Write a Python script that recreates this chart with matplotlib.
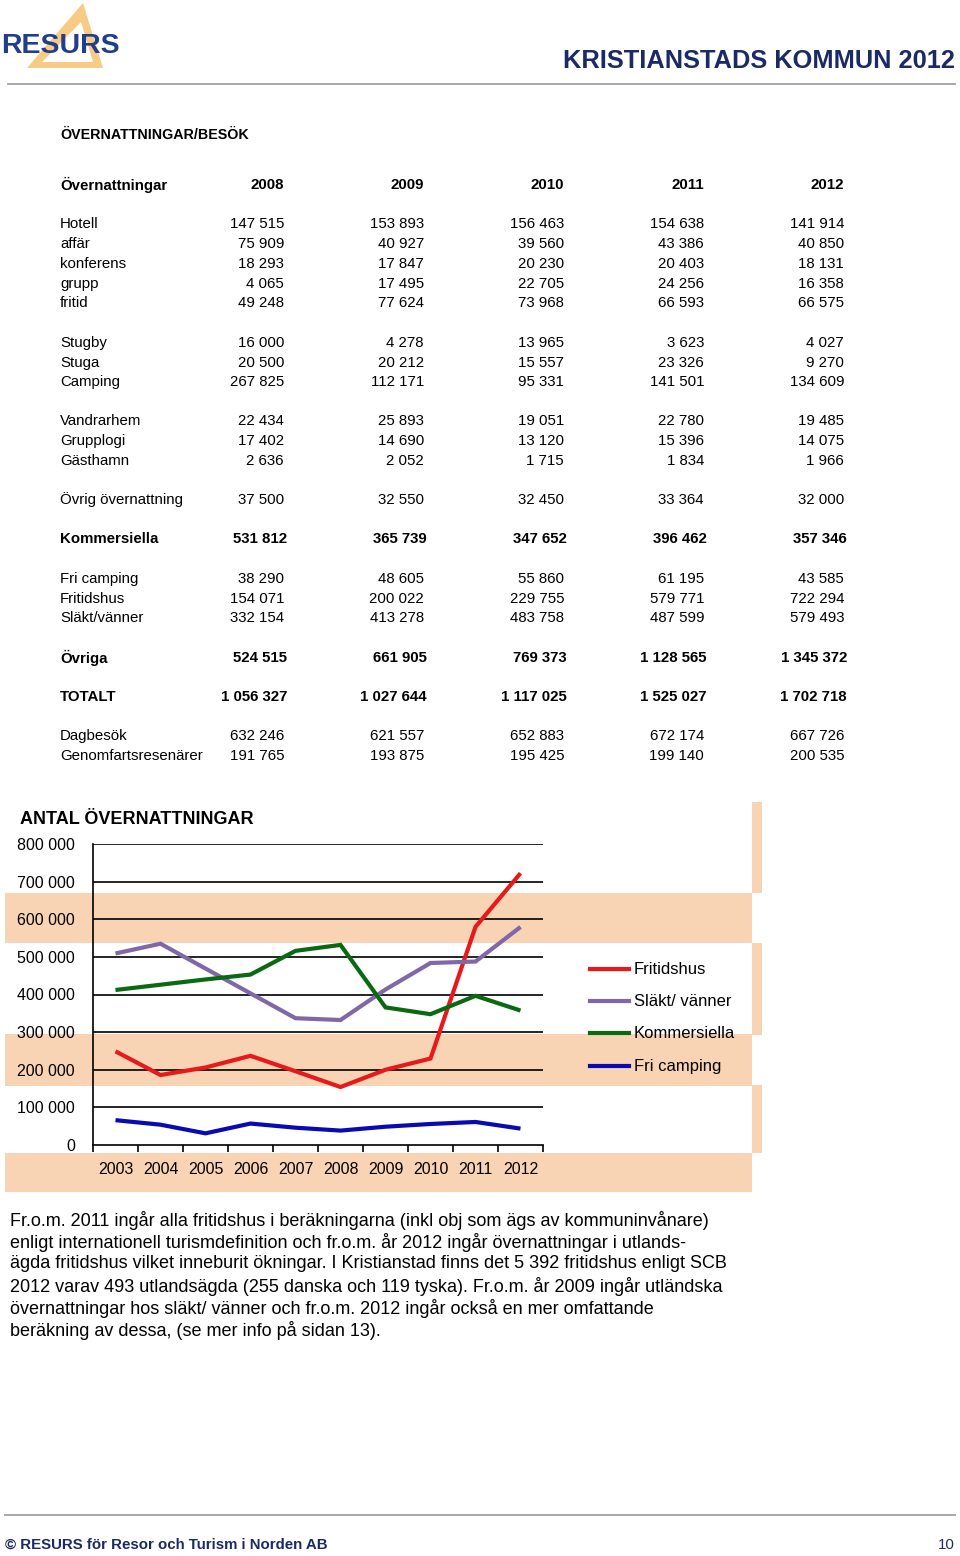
import matplotlib
matplotlib.use("Agg")
import matplotlib.pyplot as plt
from matplotlib.patches import Rectangle, Polygon
from matplotlib.lines import Line2D

# ---------------- data ----------------
table_years = ["2008", "2009", "2010", "2011", "2012"]

row_labels = ["Hotell", "affär", "konferens", "grupp", "fritid",
              "Stugby", "Stuga", "Camping",
              "Vandrarhem", "Grupplogi", "Gästhamn",
              "Övrig övernattning",
              "Kommersiella",
              "Fri camping", "Fritidshus", "Släkt/vänner",
              "Övriga",
              "TOTALT",
              "Dagbesök", "Genomfartsresenärer"]
row_values = [
    ["147 515", "153 893", "156 463", "154 638", "141 914"],
    ["75 909", "40 927", "39 560", "43 386", "40 850"],
    ["18 293", "17 847", "20 230", "20 403", "18 131"],
    ["4 065", "17 495", "22 705", "24 256", "16 358"],
    ["49 248", "77 624", "73 968", "66 593", "66 575"],
    ["16 000", "4 278", "13 965", "3 623", "4 027"],
    ["20 500", "20 212", "15 557", "23 326", "9 270"],
    ["267 825", "112 171", "95 331", "141 501", "134 609"],
    ["22 434", "25 893", "19 051", "22 780", "19 485"],
    ["17 402", "14 690", "13 120", "15 396", "14 075"],
    ["2 636", "2 052", "1 715", "1 834", "1 966"],
    ["37 500", "32 550", "32 450", "33 364", "32 000"],
    ["531 812", "365 739", "347 652", "396 462", "357 346"],
    ["38 290", "48 605", "55 860", "61 195", "43 585"],
    ["154 071", "200 022", "229 755", "579 771", "722 294"],
    ["332 154", "413 278", "483 758", "487 599", "579 493"],
    ["524 515", "661 905", "769 373", "1 128 565", "1 345 372"],
    ["1 056 327", "1 027 644", "1 117 025", "1 525 027", "1 702 718"],
    ["632 246", "621 557", "652 883", "672 174", "667 726"],
    ["191 765", "193 875", "195 425", "199 140", "200 535"],
]
bold_rows = ["Kommersiella", "Övriga", "TOTALT"]

chart_years = ["2003", "2004", "2005", "2006", "2007",
               "2008", "2009", "2010", "2011", "2012"]
fritidshus = [249000, 186000, 206000, 237000, 196000,
              154071, 200022, 229755, 579771, 722294]
slakt_vanner = [509000, 535000, 469000, 403000, 337000,
                332154, 413278, 483758, 487599, 579493]
kommersiella = [412000, 426000, 440000, 453000, 516000,
                531812, 365739, 347652, 396462, 357346]
fri_camping = [66000, 54000, 31000, 57000, 46000,
               38290, 48605, 55860, 61195, 43585]
yticks = [0, 100000, 200000, 300000, 400000, 500000, 600000, 700000, 800000]
ytick_labels = ["0", "100 000", "200 000", "300 000", "400 000",
                "500 000", "600 000", "700 000", "800 000"]

paragraph = [
    "Fr.o.m. 2011 ingår alla fritidshus i beräkningarna (inkl obj som ägs av kommuninvånare)",
    "enligt internationell turismdefinition och fr.o.m. år 2012 ingår övernattningar i utlands-",
    "ägda fritidshus vilket inneburit ökningar. I Kristianstad finns det 5 392 fritidshus enligt SCB",
    "2012 varav 493 utlandsägda (255 danska och 119 tyska). Fr.o.m. år 2009 ingår utländska",
    "övernattningar hos släkt/ vänner och fr.o.m. 2012 ingår också en mer omfattande",
    "beräkning av dessa, (se mer info på sidan 13).",
]

# ---------------- figure ----------------
W, H = 960, 1556
plt.rcParams['font.family'] = ['Liberation Sans', 'DejaVu Sans']
fig = plt.figure(figsize=(W / 100, H / 100), dpi=100)

NAVY = "#1a2a66"
PEACH = "#f9d4b4"

def fx(x):
    return x / W

def fy(y):
    return 1 - y / H

def ftext(x, y, s, **kw):
    kw.setdefault("va", "center")
    kw.setdefault("zorder", 5)
    fig.text(fx(x), fy(y), s, **kw)

def frect(x0, y0, x1, y1, color, z=-5):
    fig.patches.append(Rectangle((fx(x0), fy(y1)), fx(x1) - fx(x0), fy(y0) - fy(y1),
                                 transform=fig.transFigure, facecolor=color,
                                 edgecolor="none", zorder=z))

# header logo
outer = [(fx(83), fy(3)), (fx(27), fy(68)), (fx(103), fy(68))]
inner = [(fx(81), fy(22)), (fx(42), fy(62)), (fx(93), fy(62))]
fig.patches.append(Polygon(outer, closed=True, transform=fig.transFigure,
                           facecolor="#f8cb85", edgecolor="none", zorder=-4))
fig.patches.append(Polygon(inner, closed=True, transform=fig.transFigure,
                           facecolor="white", edgecolor="none", zorder=-3))
ftext(1, 46, "RESURS", fontsize=20.5, fontweight="bold", color="#213e8a")
ftext(955, 61, "KRISTIANSTADS KOMMUN 2012", fontsize=18.3, fontweight="bold",
      color=NAVY, ha="right")
fig.add_artist(Line2D([fx(8), fx(955)], [fy(84), fy(84)], color="#a0a0a0", lw=1.3))

# table
ftext(60, 135, "ÖVERNATTNINGAR/BESÖK", fontsize=10.3, fontweight="bold", color="black")
col_x = [284, 424, 564, 704, 844]
ftext(60, 185, "Övernattningar", fontsize=10.8, fontweight="bold")
for cx, yr in zip(col_x, table_years):
    ftext(cx, 185, yr, fontsize=10.8, fontweight="bold", ha="right")

row_y = [224, 244, 264, 284, 303, 343, 363, 382, 421, 441, 461, 500,
         539, 579, 599, 618, 658, 697, 736, 756]
for lab, vals, ry in zip(row_labels, row_values, row_y):
    b = lab in bold_rows
    fw = "bold" if b else "normal"
    ftext(60, ry, lab, fontsize=10.8, fontweight=fw)
    for cx, v in zip(col_x, vals):
        ftext(cx + (3 if b else 0), ry, v, fontsize=10.8, fontweight=fw, ha="right")

# peach background bands around chart
frect(5, 893, 752, 943, PEACH)
frect(5, 1034, 752, 1086, PEACH)
frect(5, 1153, 752, 1192, PEACH)
frect(752, 802, 762, 893, PEACH)
frect(752, 943, 762, 1035, PEACH)
frect(752, 1085, 762, 1153, PEACH)

# chart
ax_l, ax_r, ax_t, ax_b = 93, 543, 844, 1145
ax = fig.add_axes([fx(ax_l), fy(ax_b), fx(ax_r) - fx(ax_l), fy(ax_t) - fy(ax_b)])
ax.set_zorder(2)
ax.patch.set_alpha(0)
xs = list(range(len(chart_years)))
series = [(fritidshus, "#e8191b", "Fritidshus"),
          (slakt_vanner, "#8068a8", "Släkt/ vänner"),
          (kommersiella, "#0a6a12", "Kommersiella"),
          (fri_camping, "#0a0ab4", "Fri camping")]
for vals, col, lab in series:
    ax.plot(xs, vals, color=col, lw=3.0, solid_joinstyle="miter",
            solid_capstyle="butt", label=lab, zorder=3)
ax.set_xlim(-0.5, len(chart_years) - 0.5)
ax.set_ylim(0, 800000)
ax.set_yticks(yticks)
ax.set_yticklabels(ytick_labels, fontsize=11.5)
for yv in yticks[1:]:
    ax.axhline(yv, color="black", lw=1.2, zorder=2)
ax.set_xticks([i - 0.5 for i in range(len(chart_years) + 1)])
ax.set_xticklabels([])
ax.tick_params(axis="x", direction="out", length=5, width=1.2, color="black")
ax.tick_params(axis="y", length=0, pad=13)
for i, yr in enumerate(chart_years):
    ax.text(i, -0.08, yr, transform=ax.get_xaxis_transform(), ha="center",
            va="center", fontsize=11.5)
for sp in ["top", "right"]:
    ax.spines[sp].set_visible(False)
ax.spines["left"].set_linewidth(1.2)
ax.spines["bottom"].set_linewidth(1.2)

ftext(20, 819, "ANTAL ÖVERNATTNINGAR", fontsize=13, fontweight="bold")

# legend
leg_y = [969, 1001, 1033, 1066]
for (vals, col, lab), ly in zip(series, leg_y):
    fig.add_artist(Line2D([fx(590), fx(629)], [fy(ly), fy(ly)], color=col, lw=3.0,
                          zorder=5))
    ftext(634, ly, lab, fontsize=12)

# paragraph
for i, line in enumerate(paragraph):
    ftext(10, 1220 + 22 * i, line, fontsize=13)

# footer
fig.add_artist(Line2D([fx(5), fx(955)], [fy(1515), fy(1515)], color="#a0a0a0", lw=1.3))
ftext(5, 1545, "© RESURS för Resor och Turism i Norden AB", fontsize=10.8,
      fontweight="bold", color=NAVY)
ftext(955, 1545, "10", fontsize=10.8, color=NAVY, ha="right")

fig.savefig("out.png", dpi=100)
